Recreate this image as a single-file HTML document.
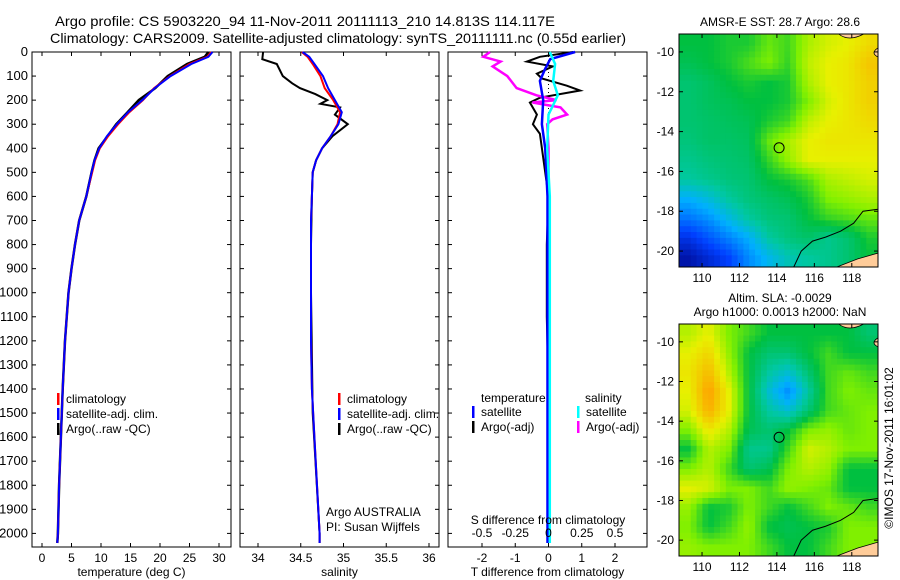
<!DOCTYPE html>
<html><head><meta charset="utf-8"><style>
body{margin:0;background:#fff}
svg{display:block;font-family:"Liberation Sans",sans-serif}
</style></head><body>
<svg id="s" width="900" height="580" viewBox="0 0 900 580">
<text x="55" y="26" font-size="14" textLength="500" lengthAdjust="spacingAndGlyphs">Argo profile: CS 5903220_94 11-Nov-2011 20111113_210 14.813S 114.117E</text>
<text x="50" y="43" font-size="14" textLength="576" lengthAdjust="spacingAndGlyphs">Climatology: CARS2009. Satellite-adjusted climatology: synTS_20111111.nc (0.55d earlier)</text>
<text x="780" y="26" font-size="12" text-anchor="middle">AMSR-E SST: 28.7 Argo: 28.6</text>
<text x="780" y="302" font-size="12" text-anchor="middle">Altim. SLA: -0.0029</text>
<text x="780" y="316" font-size="12" text-anchor="middle">Argo h1000: 0.0013 h2000: NaN</text>
<text transform="translate(893,448) rotate(-90)" font-size="12" text-anchor="middle">©IMOS 17-Nov-2011 16:01:02</text>
</svg>
<script>
// ---- data ----
const depthTicks=[0,100,200,300,400,500,600,700,800,900,1000,1100,1200,1300,1400,1500,1600,1700,1800,1900,2000];
const climDepth=[0,20,50,100,150,200,250,300,350,400,450,500,600,700,800,900,1000,1200,1400,1600,1800,2000,2040];
const climTemp=[28.7,28,25,21.7,19,17.1,14.8,12.9,11.2,9.8,9,8.5,7.5,6.3,5.6,5,4.5,3.9,3.5,3.2,2.9,2.7,2.6];
const satTemp=[28.9,28.2,25.3,21.8,19.1,17.0,14.6,12.7,11.0,9.7,8.9,8.4,7.5,6.3,5.6,5,4.5,3.9,3.5,3.2,2.9,2.7,2.6];
const argoTemp=[28.2,27.6,24.6,21.3,19.2,16.4,14.5,12.6,11.1,9.6,8.9,8.4,7.5,6.3,5.6,5,4.5,3.9,3.5,3.2,2.9,2.7,2.6];
const climSal=[34.51,34.58,34.64,34.73,34.78,34.88,34.96,34.93,34.85,34.75,34.68,34.64,34.63,34.62,34.62,34.62,34.62,34.62,34.63,34.66,34.69,34.72,34.72];
const satSal=[34.52,34.6,34.66,34.76,34.82,34.9,34.98,34.94,34.85,34.75,34.68,34.64,34.63,34.62,34.62,34.62,34.62,34.62,34.63,34.66,34.69,34.72,34.72];
const argoDepth=[0,30,50,100,130,150,175,200,215,230,260,300,350,400,450,500,600,800,1000,1500,2000,2040];
const argoSal=[34.06,34.05,34.22,34.29,34.4,34.49,34.67,34.81,34.73,34.96,34.9,35.05,34.87,34.75,34.68,34.64,34.63,34.62,34.62,34.64,34.72,34.72];
const tempTicks=[0,5,10,15,20,25,30];
const salTicks=[34,34.5,35,35.5,36];
const tdTicks=[-2,-1,0,1,2];
const sdTicks=[-0.5,-0.25,0,0.25,0.5];
const tdDepth=[0,20,40,60,90,110,140,160,190,210,260,300,340,400,500,600,800,1100,1400,2040];
const argoTd=[0.74,-0.26,-0.65,0.13,-0.35,-0.2,0.55,0.95,-0.26,-0.56,-0.35,-0.47,-0.26,-0.2,-0.1,0,-0.05,-0.05,0,0];
const satTdDepth=[0,30,70,120,200,300,400,600,2040];
const satTd=[0.8,0.05,-0.1,-0.26,-0.16,-0.2,-0.1,-0.03,-0.03];
const satSdDepth=[0,50,120,180,220,260,400,600,2040];
const satSd=[0.01,0.05,0.035,0.07,0.035,0,-0.01,0.01,0.01];
const argoSdDepth=[0,20,40,60,100,150,180,200,210,230,260,280,300,400,2040];
const argoSd=[-0.44,-0.49,-0.36,-0.42,-0.31,-0.24,-0.09,0.06,-0.12,0.09,0.14,0.03,-0.01,0,0];
const lonTicks=[110,112,114,116,118];
const latTicks=[-10,-12,-14,-16,-18,-20];
const sstGrid=[
[.5,.5,.52,.52,.58,.55,.64,.68,.7,.74],
[.48,.5,.52,.56,.6,.54,.66,.7,.72,.78],
[.45,.47,.5,.52,.5,.52,.64,.7,.72,.76],
[.45,.47,.48,.5,.5,.52,.6,.68,.72,.76],
[.45,.46,.47,.48,.52,.55,.66,.7,.72,.74],
[.44,.46,.46,.47,.58,.64,.7,.72,.72,.72],
[.42,.44,.45,.46,.54,.62,.7,.7,.7,.7],
[.4,.42,.44,.45,.5,.52,.56,.64,.66,.68],
[.3,.34,.4,.44,.46,.48,.52,.6,.62,.64],
[.22,.26,.33,.4,.44,.45,.5,.54,.56,.58],
[.12,.18,.24,.3,.4,.44,.46,.42,.45,.52],
[.05,.1,.15,.25,.32,.38,.4,.42,.45,.5]];
const slaGrid=[
[.65,.7,.6,.55,.5,.5,.5,.5,.5,.45],
[.7,.75,.62,.5,.45,.45,.5,.55,.5,.5],
[.72,.8,.65,.5,.4,.35,.45,.55,.58,.55],
[.7,.85,.7,.5,.35,.25,.4,.55,.6,.58],
[.68,.82,.7,.5,.4,.35,.45,.55,.58,.6],
[.6,.72,.65,.48,.45,.5,.6,.62,.58,.6],
[.5,.65,.6,.42,.42,.55,.68,.65,.6,.6],
[.6,.65,.55,.45,.48,.6,.65,.62,.5,.5],
[.7,.68,.6,.6,.55,.62,.6,.58,.5,.5],
[.62,.5,.52,.6,.55,.5,.55,.6,.58,.55],
[.6,.5,.55,.62,.5,.48,.5,.52,.6,.6],
[.62,.6,.6,.6,.55,.5,.5,.55,.6,.6]];
const coastLon=[114.9,115.3,115.9,116.6,117.4,118.1,118.6,119.4];
const coastLat=[-20.8,-20.0,-19.5,-19.3,-19.0,-18.6,-18.0,-17.9];
const argoLon=114.117, argoLat=-14.813;

// ---- drawing ----
const S=document.getElementById('s'), NS='http://www.w3.org/2000/svg';
function mk(t,a,p){const e=document.createElementNS(NS,t);for(const k in a)e.setAttribute(k,a[k]);(p||S).appendChild(e);return e;}
const Y0=52, YK=24.07/100, PB=547;
const yD=d=>Y0+d*YK;
function panel(x0,x1,xs,ticks,labels,name,xlabel){
  const g=mk('g',{});
  
  
  mk('rect',{x:x0,y:Y0,width:x1-x0,height:PB-Y0,fill:'#fff',stroke:'#000'},g);
  ticks.forEach((v,i)=>{const x=xs(v);
    mk('line',{x1:x,x2:x,y1:PB,y2:PB-4,stroke:'#000'},g);mk('line',{x1:x,x2:x,y1:Y0,y2:Y0+4,stroke:'#000'},g);
    const t=mk('text',{x:x,y:PB+15,'font-size':12,'text-anchor':'middle'},g);t.textContent=labels[i];
    });
  depthTicks.forEach(d=>{const y=yD(d);mk('line',{x1:x0,x2:x0+4,y1:y,y2:y,stroke:'#000'},g);mk('line',{x1:x1,x2:x1-4,y1:y,y2:y,stroke:'#000'},g);});
  const t=mk('text',{x:(x0+x1)/2,y:576,'font-size':12,'text-anchor':'middle'},g);t.textContent=xlabel;
  
  return g;
}
function line(g,xs,vals,deps,col,w,name){
  const p=mk('polyline',{points:vals.map((v,i)=>xs(v).toFixed(1)+','+yD(deps[i]).toFixed(1)).join(' '),fill:'none',stroke:col,'stroke-width':w},g);
  
}
function txt(g,x,y,s,name,anchor){const t=mk('text',{x:x,y:y,'font-size':12,'text-anchor':anchor||'start'},g);t.textContent=s;
  }
function legend(g,x,y,col,s){mk('rect',{x:x,y:y-10,width:2.5,height:12,fill:col},g);txt(g,x+9,y,s,'legend-entry');}
depthTicks.forEach(d=>{const t=mk('text',{x:28,y:yD(d)+4,'font-size':13,'text-anchor':'end'});t.textContent=d;
  });
const xT=v=>42+v*5.9;
const g1=panel(32,231,xT,tempTicks,tempTicks.map(String),'temperature-panel','temperature (deg C)');
line(g1,xT,argoTemp,climDepth,'#000',2.5,'argo-temperature-line');
line(g1,xT,climTemp,climDepth,'#f00',2,'clim-temperature-line');
line(g1,xT,satTemp,climDepth,'#00f',2,'sat-temperature-line');
legend(g1,57,403,'#f00','climatology');legend(g1,57,418,'#00f','satellite-adj. clim.');legend(g1,57,433,'#000','Argo(..raw -QC)');
const xS=v=>258+(v-34)*85.5;
const g2=panel(240,439,xS,salTicks,['34','34.5','35','35.5','36'],'salinity-panel','salinity');
line(g2,xS,argoSal,argoDepth,'#000',2,'argo-salinity-line');
line(g2,xS,climSal,climDepth,'#f00',2,'clim-salinity-line');
line(g2,xS,satSal,climDepth,'#00f',2,'sat-salinity-line');
legend(g2,338,403,'#f00','climatology');legend(g2,338,418,'#00f','satellite-adj. clim.');legend(g2,338,433,'#000','Argo(..raw -QC)');
txt(g2,326,516,'Argo AUSTRALIA','platform-label');txt(g2,326,531,'PI: Susan Wijffels','pi-label');
const xTd=v=>548.5+v*33.25, xSd=v=>548.5+v*133;
const g3=panel(448,647,xTd,tdTicks,tdTicks.map(String),'difference-panel','T difference from climatology');
mk('line',{x1:xTd(0),x2:xTd(0),y1:Y0,y2:PB,stroke:'#000','stroke-dasharray':'1,3'},g3);
line(g3,xTd,argoTd,tdDepth,'#000',2,'argo-t-diff-line');
line(g3,xSd,argoSd,argoSdDepth,'#f0f',2.5,'argo-s-diff-line');
line(g3,xTd,satTd,satTdDepth,'#00f',2.5,'sat-t-diff-line');
line(g3,xSd,satSd,satSdDepth,'#0ff',2.5,'sat-s-diff-line');
sdTicks.forEach(v=>txt(g3,xSd(v),537,String(v),'s-tick-label','middle'));
txt(g3,548,524,'S difference from climatology','s-axis-title','middle');
txt(g3,481,402,'temperature','legend-title');txt(g3,585,402,'salinity','legend-title');
legend(g3,472,416,'#00f','satellite');legend(g3,472,431,'#000','Argo(-adj)');
legend(g3,577,416,'#0ff','satellite');legend(g3,577,431,'#f0f','Argo(-adj)');
const stops=[[0,[0,0,128]],[.15,[0,64,255]],[.3,[0,176,255]],[.4,[0,200,160]],[.5,[0,192,64]],[.6,[128,240,0]],[.7,[232,240,0]],[.85,[255,160,0]],[1,[224,64,0]]];
function cmap(v){for(let i=1;i<stops.length;i++){if(v<=stops[i][0]){const a=stops[i-1],b=stops[i],f=(v-a[0])/(b[0]-a[0]);return 'rgb('+a[1].map((c,k)=>Math.round(c+(b[1][k]-c)*f)).join(',')+')';}}return 'rgb(224,64,0)';}
function sample(grid,fy,fx){const R=grid.length,C=grid[0].length;
  const y=Math.min(Math.max(fy*R-.5,0),R-1),x=Math.min(Math.max(fx*C-.5,0),C-1);
  const y0=Math.floor(y),x0=Math.floor(x),y1=Math.min(y0+1,R-1),x1=Math.min(x0+1,C-1),dy=y-y0,dx=x-x0;
  return grid[y0][x0]*(1-dy)*(1-dx)+grid[y0][x1]*(1-dy)*dx+grid[y1][x0]*dy*(1-dx)+grid[y1][x1]*dy*dx;}
function map(y0,y1,grid,name){
  const x0=679,x1=878,L0=108.77,L1=119.4,yTop=y0,latK=(y1-y0)/(20.8-9.1);
  const xL=l=>x0+(l-L0)*(x1-x0)/(L1-L0), yL=la=>yTop+(-9.1-la)*latK;
  const g=mk('g',{});
  const NR=40,NC=34,cw=(x1-x0)/NC,ch=(y1-y0)/NR;
  for(let r=0;r<NR;r++)for(let c=0;c<NC;c++){const v=sample(grid,(r+.5)/NR,(c+.5)/NC);
    const e=mk('rect',{x:(x0+c*cw).toFixed(2),y:(y0+r*ch).toFixed(2),width:(cw+.5).toFixed(2),height:(ch+.5).toFixed(2),fill:cmap(v)},g);
    
    }
  mk('path',{d:`M${xL(117.3)},${y0} q10,8 25,0 z M${x1},${yL(-9.8)} q-8,5 0,9 z M${xL(117.2)},${y1} L${xL(118.3)},${yL(-20.4)} L${x1},${yL(-20.1)} L${x1},${y1} z`,fill:'#fc9',stroke:'#000','stroke-width':0.8},g);
  const p=mk('polyline',{points:coastLon.map((l,i)=>xL(l)+','+yL(coastLat[i])).join(' '),fill:'none',stroke:'#000','stroke-width':1},g);
  
  mk('rect',{x:x0,y:y0,width:x1-x0,height:y1-y0,fill:'none',stroke:'#000'},g);
  const c=mk('circle',{cx:xL(argoLon),cy:yL(argoLat),r:5,fill:'none',stroke:'#000'},g);
  
  lonTicks.forEach(l=>{const x=xL(l);mk('line',{x1:x,x2:x,y1:y1,y2:y1-4,stroke:'#000'},g);mk('line',{x1:x,x2:x,y1:y0,y2:y0+4,stroke:'#000'},g);txt(g,x,y1+15,String(l),'lon-tick-label','middle');});
  latTicks.forEach(la=>{const y=yL(la);mk('line',{x1:x0,x2:x0+4,y1:y,y2:y,stroke:'#000'},g);mk('line',{x1:x1,x2:x1-4,y1:y,y2:y,stroke:'#000'},g);txt(g,x0-5,y+4,String(la),'lat-tick-label','end');});
}
map(34,267,sstGrid,'sst-map');
map(324,556,slaGrid,'sla-map');
</script>
</body></html>
